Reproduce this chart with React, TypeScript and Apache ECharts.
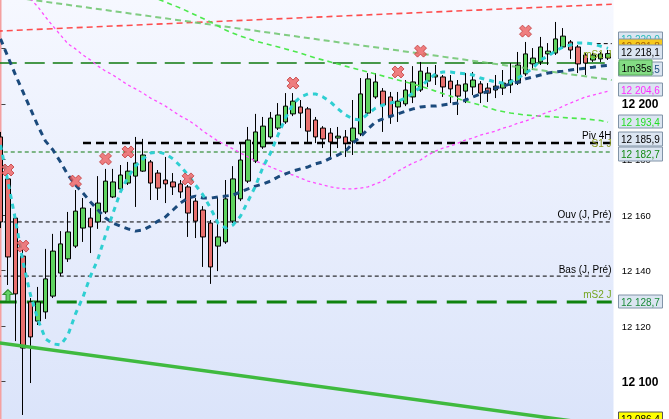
import React, { useEffect, useRef } from 'react';
import * as echarts from 'echarts';

const FONT = '"Liberation Sans", Arial, sans-serif';

// ---- price axis
const Y_MIN = 12080;
const Y_MAX = 12240;
const Y_STEP = 20;

// ---- candles (one per bar)
const OPEN = [12188.1,12173.0,12158.9,12145.2,12128.7,12121.8,12125.1,12130.8,12139.1,12144.2,12148.8,12155.3,12158.9,12157.5,12161.1,12166.5,12169.4,12171.5,12174.0,12175.8,12179.1,12175.1,12172.6,12171.9,12171.2,12170.1,12165.0,12161.8,12157.1,12148.8,12150.3,12157.8,12165.8,12172.2,12179.4,12184.5,12188.1,12191.3,12193.5,12196.4,12198.9,12198.2,12194.2,12191.3,12189.5,12187.7,12188.1,12186.6,12189.2,12196.7,12202.5,12204.6,12202.5,12198.9,12200.0,12202.5,12205.0,12208.2,12209.7,12209.7,12208.2,12206.8,12204.6,12206.1,12207.2,12205.7,12205.0,12205.7,12206.8,12207.5,12210.8,12214.4,12215.1,12218.0,12218.3,12220.5,12222.3,12220.5,12217.6,12215.8,12216.2,12216.5];
const CLOSE = [12157.5,12144.9,12131.6,12112.1,12116.1,12128.7,12137.0,12147.0,12149.6,12153.9,12161.4,12162.5,12155.7,12164.3,12172.2,12171.9,12174.4,12175.8,12178.7,12181.6,12171.5,12169.7,12171.2,12170.1,12168.3,12160.7,12157.8,12152.1,12141.3,12152.1,12165.8,12173.0,12179.8,12187.0,12189.9,12192.0,12194.9,12196.0,12199.2,12201.0,12196.7,12190.2,12188.1,12187.4,12186.3,12188.4,12185.9,12191.3,12203.6,12209.0,12207.9,12199.6,12195.3,12201.0,12205.0,12207.9,12211.8,12211.1,12210.4,12206.1,12205.4,12202.8,12207.2,12208.6,12203.9,12203.9,12206.4,12207.5,12208.6,12214.0,12218.0,12216.5,12220.5,12219.0,12223.4,12224.4,12219.4,12214.4,12214.7,12217.6,12218.0,12218.1];
const LOW = [12155.3,12134.8,12114.6,12088.0,12099.5,12120.4,12122.6,12130.1,12138.0,12143.1,12148.1,12150.3,12146.3,12155.0,12160.4,12166.1,12168.6,12170.8,12162.9,12175.5,12165.4,12165.4,12164.3,12167.2,12166.1,12152.1,12151.7,12141.3,12135.2,12139.8,12149.6,12157.1,12165.0,12171.5,12178.7,12183.8,12187.4,12190.6,12192.8,12195.6,12191.3,12186.3,12185.9,12184.1,12179.8,12184.1,12180.9,12181.6,12188.4,12196.0,12201.8,12189.9,12192.8,12193.5,12199.2,12200.3,12204.3,12206.1,12206.8,12202.5,12200.3,12196.0,12200.3,12203.2,12200.3,12200.7,12202.1,12203.2,12203.9,12206.8,12210.0,12212.2,12214.0,12214.0,12217.6,12219.8,12216.2,12211.1,12210.4,12215.1,12215.1,12215.8];
const HIGH = [12189.9,12174.4,12160.4,12147.4,12130.1,12134.1,12147.8,12153.2,12154.2,12161.1,12169.0,12166.1,12162.5,12174.0,12176.6,12176.6,12178.0,12179.1,12188.1,12187.4,12179.8,12176.2,12180.9,12175.1,12172.6,12170.8,12166.1,12163.2,12158.2,12166.5,12172.6,12177.6,12185.6,12191.7,12196.4,12195.3,12197.1,12200.3,12203.9,12203.9,12201.4,12198.9,12195.3,12192.0,12191.3,12191.7,12190.6,12201.4,12209.3,12211.1,12211.1,12205.7,12204.3,12204.3,12208.6,12213.6,12215.1,12213.3,12214.0,12210.4,12210.4,12208.6,12211.1,12211.5,12208.2,12207.5,12210.4,12212.2,12214.7,12218.7,12222.3,12220.1,12224.1,12221.9,12229.5,12227.3,12223.0,12221.2,12218.3,12218.3,12218.7,12219.4];
const CATEGORIES = OPEN.map((_, i) => `B${i + 1}`);

// ---- indicator curves (one value per bar)
const MA_SLOW = [12223.4,12216.9,12210.4,12204.3,12198.2,12192.0,12186.6,12183.4,12179.1,12174.4,12170.8,12167.9,12164.7,12161.8,12158.9,12157.1,12156.0,12155.0,12154.2,12154.6,12156.0,12157.8,12159.3,12161.8,12164.3,12166.1,12166.8,12166.1,12166.1,12166.5,12166.8,12167.2,12168.3,12169.4,12170.4,12171.2,12172.2,12173.7,12174.8,12175.8,12176.6,12177.3,12178.4,12179.1,12180.5,12181.6,12183.0,12185.9,12188.1,12191.0,12193.5,12194.6,12195.6,12196.4,12197.4,12198.2,12198.9,12199.2,12199.2,12199.6,12200.0,12200.3,12201.4,12202.5,12203.6,12204.6,12205.7,12206.4,12207.2,12207.9,12209.0,12209.7,12210.4,12211.1,12211.5,12211.8,12212.2,12212.5,12212.9,12213.2,12213.6,12213.9];
const MA_FAST = [12185.2,12171.9,12158.2,12143.1,12131.2,12122.2,12115.4,12113.6,12113.2,12116.8,12124.4,12130.5,12138.0,12144.2,12152.8,12160.7,12168.3,12173.7,12177.6,12180.2,12182.3,12182.7,12182.0,12180.2,12177.6,12174.4,12170.8,12167.2,12162.5,12157.1,12155.3,12156.4,12159.6,12165.0,12170.4,12177.3,12182.3,12188.8,12194.9,12200.0,12202.5,12203.6,12203.6,12202.5,12200.7,12198.2,12196.0,12194.6,12194.2,12196.4,12198.5,12199.6,12200.3,12201.0,12202.1,12203.9,12206.1,12208.6,12210.8,12211.5,12211.5,12211.1,12210.8,12210.4,12209.3,12208.6,12207.9,12207.5,12207.9,12209.3,12211.1,12212.9,12215.8,12217.2,12219.0,12220.5,12221.2,12221.9,12221.9,12221.6,12220.8,12220.0];
const BAND = [12251.4,12248.2,12244.6,12241.4,12237.8,12234.9,12231.3,12228.0,12224.8,12221.6,12219.8,12217.6,12215.8,12213.6,12211.8,12210.4,12208.6,12206.8,12205.4,12203.9,12202.1,12200.7,12199.2,12197.4,12195.6,12194.2,12192.4,12190.2,12188.4,12186.6,12185.2,12183.8,12182.3,12180.9,12179.4,12178.4,12177.3,12176.2,12175.1,12174.4,12173.3,12172.2,12171.5,12170.8,12170.1,12169.7,12169.4,12169.4,12169.7,12170.1,12171.2,12172.2,12174.0,12175.8,12177.3,12178.7,12179.8,12181.6,12183.0,12184.1,12184.8,12185.9,12187.0,12187.7,12188.8,12189.5,12190.2,12191.3,12192.0,12193.1,12193.8,12194.9,12196.0,12197.1,12197.8,12199.2,12200.3,12201.4,12202.5,12203.2,12203.9,12204.6];
// long average read at every other bar: [bar index, value]
const MA_LONG = [[20,12238.8],[24,12234.5],[26,12232.0],[28,12229.5],[30,12226.6],[32,12224.4],[34,12222.6],[36,12221.2],[38,12219.8],[40,12218.3],[42,12216.5],[44,12215.1],[46,12213.6],[48,12212.2],[50,12210.8],[52,12209.3],[54,12207.9],[56,12206.4],[58,12204.6],[60,12202.8],[62,12201.0],[64,12199.6],[66,12197.8],[68,12196.7],[70,12196.0],[72,12195.6],[74,12195.3],[76,12194.9],[78,12194.6],[80,12194.0],[81,12193.4]];

// ---- trend lines: [bar index, value] end points
const TREND_RED = [[-0.5,12226.2],[81.5,12235.9]];
const TREND_PALE = [[-0.5,12239.2],[81.5,12208.6]];
const TREND_SUPPORT = [[-0.5,12114.1],[81.5,12083.9]];

// ---- horizontal levels
const LEVEL_NAMES = ['mS1 J','Piv 4H','S1 J','Ouv (J, Pré)','Bas (J, Pré)','mS2 J'];
const LEVEL_VALUES = [12214.7,12185.9,12182.7,12157.5,12138.0,12128.7];
const LEVEL_FROM = [-0.5,11,-0.5,-0.5,-0.5,-0.5];
const HIGH_LEVEL = [[79.5,12221.7],[81.5,12221.7]];

// ---- signals
const SELL_SIGNALS = [[1,12176.2],[3,12148.8],[10,12172.2],[14,12180.2],[17,12182.7],[25,12173.0],[39,12207.5],[53,12211.5],[56,12219.0],[70,12226.2]];
const BUY_SIGNALS = [[1,12131.0]];

// ---- right side tags
const TAG_TEXTS = ['12 220,0','12 221,8','12 218,1','12 212,5','1m35s','12 204,6','12 193,4','12 185,9','12 182,7','12 128,7','12 086,4'];

const LEVEL_STYLE = [
  { color: '#0f7a0f', width: 1.6, type: [20, 8], label: '#86a41c', off: 4 },
  { color: '#000000', width: 2.6, type: [8, 5], label: '#000000', off: 3 },
  { color: '#0f7a0f', width: 1.1, type: [4, 3], label: '#8a9a1c', off: 3 },
  { color: '#000000', width: 1, type: [4, 3], label: '#000000', off: 2 },
  { color: '#000000', width: 1, type: [4, 3], label: '#000000', off: 2 },
  { color: '#0f820f', width: 3, type: [20, 10], label: '#74a520', off: 2 },
];

const TAG_STYLE = [
  { top: 32, fill: '#dbe5f1', stroke: '#8194a8', color: '#2ab8b8', x: 618.5, w: 44, h: 14 },
  { top: 39, fill: '#f6c91e', stroke: '#8194a8', color: '#a86200', x: 618.5, w: 44, h: 14 },
  { top: 45, fill: '#dbe5f1', stroke: '#8194a8', color: '#000000', x: 618.5, w: 44, h: 14 },
  { top: 62, fill: '#dbe5f1', stroke: '#8194a8', color: '#1d4f80', x: 618.5, w: 44, h: 14 },
  { top: 60, fill: '#84dc84', stroke: '#5aad5a', color: '#000000', x: 619, w: 33, h: 15 },
  { top: 83, fill: '#dbe5f1', stroke: '#8194a8', color: '#ff2cff', x: 618.5, w: 44, h: 13 },
  { top: 115, fill: '#dbe5f1', stroke: '#8194a8', color: '#22dd22', x: 618.5, w: 44, h: 13 },
  { top: 132, fill: '#dbe5f1', stroke: '#8194a8', color: '#000000', x: 618.5, w: 44, h: 14 },
  { top: 147, fill: '#dbe5f1', stroke: '#8194a8', color: '#138a13', x: 618.5, w: 44, h: 14 },
  { top: 295, fill: '#dbe5f1', stroke: '#8194a8', color: '#1a8a3a', x: 618.5, w: 44, h: 13 },
  { top: 412, fill: '#ffff00', stroke: '#555555', color: '#000000', x: 618.5, w: 44, h: 14 },
];

function dashed(data: number[][], color: string, width: number, type: any, z: number, opacity = 1) {
  return {
    type: 'line', xAxisIndex: 1, yAxisIndex: 0, data, symbol: 'none', showSymbol: false, silent: true, z,
    lineStyle: { color, width, type, opacity, cap: 'butt' },
  };
}

export default function App() {
  const ref = useRef<HTMLDivElement>(null);
  useEffect(() => {
    if (!ref.current) return;
    const chart = echarts.init(ref.current, null, { renderer: 'svg' });
    const perBar = (arr: number[]) => arr.map((v, i) => [i, v]);
    const series: any[] = [];
    series.push(dashed([[0, Y_MIN], [0, Y_MAX]], '#f4a0a0', 2, 'solid', 1));
    LEVEL_VALUES.forEach((v, k) => {
      const s = LEVEL_STYLE[k];
      series.push(dashed([[LEVEL_FROM[k], v], [81.5, v]], s.color, s.width, s.type, 2));
    });
    series.push(dashed(HIGH_LEVEL, '#000', 1, [4, 3], 2));
    series.push({
      type: 'candlestick', xAxisIndex: 0, yAxisIndex: 0, barWidth: 5, z: 3, silent: true,
      data: OPEN.map((o, i) => [o, CLOSE[i], LOW[i], HIGH[i]]),
      itemStyle: { color: '#5fd35f', color0: '#e8706e', borderColor: '#000', borderColor0: '#000', borderColorDoji: '#000', borderWidth: 1 },
    });
    series.push(dashed(TREND_SUPPORT, '#3fba3f', 3.5, 'solid', 4));
    series.push(dashed(TREND_RED, '#ff3b3b', 1.6, [6, 4], 4, 0.9));
    series.push(dashed(TREND_PALE, '#6cc46c', 2, [6, 4], 4, 0.85));
    series.push(dashed(MA_LONG, '#4de84d', 1.6, [5, 4], 4));
    series.push(dashed(perBar(BAND), '#ff4dff', 1.3, [3, 3], 4));
    series.push(dashed(perBar(MA_SLOW), '#1b4a7c', 3, [6, 5], 5));
    series.push(dashed(perBar(MA_FAST), '#2fcfd2', 3, [5, 5], 5));
    series.push({
      type: 'scatter', xAxisIndex: 1, yAxisIndex: 0, data: SELL_SIGNALS, z: 7, silent: true,
      symbol: 'path://M3,0 L6,3 L9,0 L12,3 L9,6 L12,9 L9,12 L6,9 L3,12 L0,9 L3,6 L0,3 Z',
      symbolSize: 12, itemStyle: { color: '#ee5f5f', borderColor: '#c23a3a', borderWidth: 1 },
    });
    series.push({
      type: 'scatter', xAxisIndex: 1, yAxisIndex: 0, data: BUY_SIGNALS, z: 7, silent: true,
      symbol: 'path://M5,0 L10,5 L7,5 L7,12 L3,12 L3,5 L0,5 Z',
      symbolSize: [10, 12], itemStyle: { color: '#44cc44', borderColor: '#117711', borderWidth: 1 },
    });

    const bg = {
      type: 'rect', z: -10, silent: true, shape: { x: 0, y: 0, width: 613.5, height: 419 },
      style: { fill: new echarts.graphic.LinearGradient(0, 0, 0, 1, [{ offset: 0, color: '#f6f8ff' }, { offset: 1, color: '#dbe4fa' }]) },
    };

    const option: any = {
      animation: false,
      grid: { left: -3.25, top: -7.2, width: 615, height: 444.4, show: false, containLabel: false, outerBoundsMode: 'none' },
      xAxis: [
        { type: 'category', data: CATEGORIES, show: false, boundaryGap: true },
        { type: 'value', min: -0.5, max: 81.5, show: false },
      ],
      yAxis: {
        type: 'value', position: 'right', min: Y_MIN, max: Y_MAX, interval: Y_STEP, offset: 2,
        axisLine: { show: true, lineStyle: { color: '#8a9bb0', width: 1 } },
        axisTick: { show: true, length: 5, lineStyle: { color: '#444' } },
        splitLine: { show: false },
        axisLabel: {
          margin: 8,
          showMinLabel: false,
          showMaxLabel: false,
          formatter: (v: number) => {
            const s = String(Math.round(v));
            const t = s.slice(0, -3) + ' ' + s.slice(-3);
            return v % 100 === 0 ? `{b|${t}}` : `{n|${t}}`;
          },
          rich: {
            n: { fontSize: 9.5, fontFamily: FONT, color: '#000' },
            b: { fontSize: 12, fontWeight: 'bold', fontFamily: FONT, color: '#000' },
          },
        },
      },
      graphic: { elements: [bg] },
      series,
    };
    chart.setOption(option);

    const py = (v: number) => chart.convertToPixel({ yAxisIndex: 0 }, v) as number;
    const els: any[] = [bg];
    LEVEL_NAMES.forEach((name, k) => {
      const s = LEVEL_STYLE[k];
      els.push({
        type: 'text', z: 50, silent: true, x: 611.5, y: py(LEVEL_VALUES[k]) - s.off,
        style: { text: name, fill: s.label, font: `10px ${FONT}`, align: 'right', textAlign: 'right', verticalAlign: 'bottom', textVerticalAlign: 'bottom' },
      });
    });
    TAG_TEXTS.forEach((t, k) => {
      const s = TAG_STYLE[k];
      els.push({
        type: 'group', z: 100 + k, silent: true,
        children: [
          { type: 'rect', z: 100 + k, shape: { x: s.x, y: s.top, width: s.w, height: s.h }, style: { fill: s.fill, stroke: s.stroke, lineWidth: 1 } },
          { type: 'text', z: 100 + k, x: s.x + 2.5, y: s.top + s.h / 2 + 0.5, style: { text: t, fill: s.color, font: `10px ${FONT}`, verticalAlign: 'middle', textVerticalAlign: 'middle' } },
        ],
      });
    });
    chart.setOption({ graphic: { elements: els } }, { replaceMerge: ['graphic'] });

    return () => chart.dispose();
  }, []);
  return <div ref={ref} style={{ position: 'fixed', left: 0, top: 0, width: 669, height: 419 }} />;
}
